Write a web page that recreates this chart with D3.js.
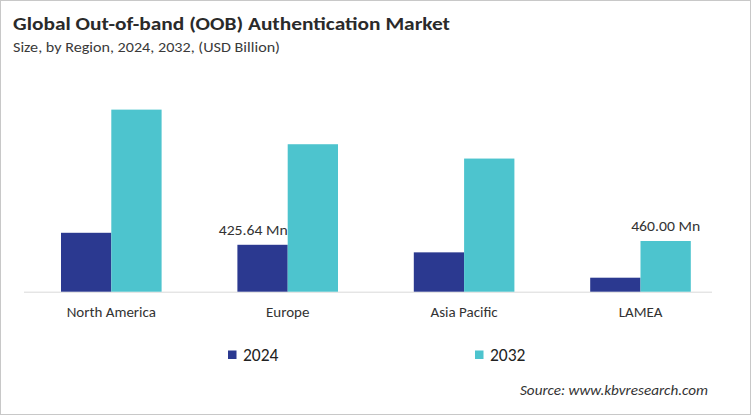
<!DOCTYPE html>
<html><head><meta charset="utf-8">
<script src="https://cdn.jsdelivr.net/npm/d3@7"></script>
<style>html,body{margin:0;padding:0;background:#fff;}</style>
</head><body>
<svg id="c" width="752" height="416"></svg>
<script>
const categories = ["North America", "Europe", "Asia Pacific", "LAMEA"];
const series = ["2024", "2032"];
const values2024 = [534.5, 425.64, 357, 127];
const values2032 = [1652, 1338, 1208, 460.0];
const valueLabels = [{cat: "Europe", s: "2024", text: "425.64 Mn"}, {cat: "LAMEA", s: "2032", text: "460.00 Mn"}];
const colors = {"2024": "#2B3990", "2032": "#4DC4CE"};

const svg = d3.select("#c");
const font = "Carlito, 'Open Sans', sans-serif";

svg.append("rect").attr("x", 0.5).attr("y", 0.5).attr("width", 750).attr("height", 414)
  .attr("fill", "#fff").attr("stroke", "#c8c8c8").attr("stroke-width", 1);

function fitText(sel, w) {
  const n = sel.node();
  const len = n.getComputedTextLength();
  if (len > 0) sel.attr("textLength", w).attr("lengthAdjust", "spacingAndGlyphs");
}

const title = svg.append("text").attr("x", 13).attr("y", 30).attr("font-family", font)
  .attr("font-weight", "bold").attr("font-size", 18.5).attr("fill", "#2a2a2a")
  .text("Global Out-of-band (OOB) Authentication Market");
fitText(title, 437);
const sub = svg.append("text").attr("x", 13).attr("y", 52).attr("font-family", font)
  .attr("font-size", 14).attr("fill", "#3a3a3a")
  .text("Size, by Region, 2024, 2032, (USD Billion)");
fitText(sub, 267);

const baseline = 291.7;
const x0 = d3.scaleBand().domain(categories).range([23.1, 728.7]).padding(0);
const barW = 50.3;
const y = d3.scaleLinear().domain([0, 460]).range([baseline, 241]);

// axis line
svg.append("line").attr("x1", 24).attr("x2", 712).attr("y1", baseline + 0.5).attr("y2", baseline + 0.5)
  .attr("stroke", "#d9d9d9").attr("stroke-width", 1);

const data = categories.map((c, i) => ({cat: c, "2024": values2024[i], "2032": values2032[i]}));
const xPos = (d, s) => x0(d.cat) + x0.bandwidth() / 2 + (s === "2024" ? -barW : 0);

// 2024 bars
svg.append("g").selectAll("rect").data(data).join("rect")
  .attr("x", d => xPos(d, "2024")).attr("width", barW)
  .attr("y", d => y(d["2024"])).attr("height", d => baseline - y(d["2024"]))
  .attr("fill", colors["2024"]);

// value labels (drawn before 2032 bars so they can be overlapped)
valueLabels.forEach(l => {
  const d = data.find(e => e.cat === l.cat);
  const v = d[l.s];
  const cx = l.s === "2024" ? xPos(d, "2024") + barW - 34.5 : xPos(d, l.s) + barW / 2;
  const t = svg.append("text").attr("x", cx).attr("y", y(v) - 10)
    .attr("text-anchor", "middle").attr("font-family", font).attr("font-size", 14.5)
    .attr("fill", "#333").text(l.text);
  fitText(t, 69);
});

// 2032 bars
svg.append("g").selectAll("rect").data(data).join("rect")
  .attr("x", d => xPos(d, "2032")).attr("width", barW)
  .attr("y", d => y(d["2032"])).attr("height", d => baseline - y(d["2032"]))
  .attr("fill", colors["2032"]);

// category labels
svg.append("g").selectAll("text").data(categories).join("text")
  .attr("x", d => x0(d) + x0.bandwidth() / 2).attr("y", 317)
  .attr("text-anchor", "middle").attr("font-family", font).attr("font-size", 15)
  .attr("fill", "#333").text(d => d);

// legend
const legX = {"2024": 228, "2032": 475};
series.forEach(s => {
  svg.append("rect").attr("x", legX[s]).attr("y", 350.5).attr("width", 8.5).attr("height", 8.5)
    .attr("fill", colors[s]);
  svg.append("text").attr("x", legX[s] + 15).attr("y", 361).attr("font-family", font)
    .attr("font-size", 17.5).attr("fill", "#222").text(s);
});

const src = svg.append("text").attr("x", 708).attr("y", 395).attr("text-anchor", "end")
  .attr("font-family", font).attr("font-style", "italic").attr("font-size", 14)
  .attr("fill", "#333").text("Source: www.kbvresearch.com");
fitText(src, 188);
</script>
</body></html>
